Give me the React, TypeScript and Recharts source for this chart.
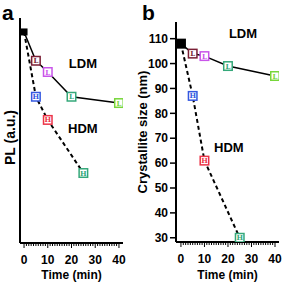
import React from "react";
import { LineChart, Line, XAxis, YAxis, ReferenceDot, Label } from "recharts";

// Panel a: PL (a.u.)
const ldmTimes = [0, 5, 10, 20, 40];
const hdmTimes = [0, 5, 10, 25];
const ldmPL = [93.8, 81, 76, 65, 62.2];
const hdmPL = [93.8, 65, 54.7, 31.1];
// Panel b: crystallite size (nm)
const ldmSize = [108, 104, 103, 99, 95];
const hdmSize = [108, 87, 61, 30];

const ldmColors = ["#000000", "#7a1f35", "#c955ea", "#35a87a", "#77d63a"];
const hdmColors = ["#000000", "#3558e0", "#ec3448", "#35a87a"];

const timeTicks = Array.from({ length: 41 }, (_, i) => i);
const sizeTicks = [30, 40, 50, 60, 70, 80, 90, 100, 110];

const mk = (ts: number[], vs: number[]) => ts.map((t, i) => ({ t, v: vs[i] }));

const FONT = "'Liberation Sans', Arial, sans-serif";
const AXIS = { stroke: "#000", strokeWidth: 2 };

const XTick = (props: any) => {
  const { x, y, payload } = props;
  const v = payload.value;
  const major = v % 10 === 0;
  return (
    <g>
      <line x1={x} x2={x} y1={y} y2={y + (major ? 5 : 3)} stroke="#000" strokeWidth={1} />
      {major && (
        <text x={x} y={y + 21} textAnchor="middle" fontSize={12} fontWeight="bold" fill="#000" fontFamily={FONT}>
          {v}
        </text>
      )}
    </g>
  );
};

const makeDot = (colors: string[], letter: string, startSize: number) => (props: any) => {
  const { cx, cy, index } = props;
  if (cx == null || cy == null) return <g key={`d${index}`} />;
  if (index === 0) {
    if (startSize <= 0) return <g key={`d${index}`} />;
    return (
      <rect key={`d${index}`} x={cx - startSize / 2} y={cy - startSize / 2} width={startSize} height={startSize} fill="#000" />
    );
  }
  const c = colors[index];
  return (
    <g key={`d${index}`}>
      <rect x={cx - 4.25} y={cy - 4.25} width={8.5} height={8.5} fill="#fff" stroke={c} strokeWidth={1.5} />
      <text x={cx} y={cy + 2.5} textAnchor="middle" fontSize={7} fontWeight="bold" fill={c} fontFamily="'DejaVu Serif', serif">
        {letter}
      </text>
    </g>
  );
};

const textLabel = (value: string) => ({ value, position: "center" as const, fontSize: 13, fontWeight: "bold", fill: "#000" });

const PanelA = () => {
  const xd: [number, number] = [-1.7, 41.7];
  return (
    <LineChart width={135} height={283} margin={{ top: 18, right: 12, bottom: 0, left: 0 }}>
      <XAxis
        type="number"
        dataKey="t"
        domain={xd}
        allowDataOverflow
        ticks={timeTicks}
        interval={0}
        tick={<XTick />}
        tickLine={false}
        tickSize={0}
        tickMargin={0}
        axisLine={AXIS}
        height={40}
      >
        <Label value="Time (min)" position="insideBottom" offset={4} fontSize={12} fontWeight="bold" fill="#000" />
      </XAxis>
      <XAxis xAxisId="top" orientation="top" type="number" domain={xd} allowDataOverflow height={0} tick={false} tickLine={false} axisLine={AXIS} />
      <YAxis type="number" domain={[0, 100]} allowDataOverflow width={20} tick={false} axisLine={AXIS} tickLine={false}>
        <Label value="PL (a.u.)" angle={-90} position="center" dx={0} dy={7} fontSize={14} fontWeight="bold" fill="#000" />
      </YAxis>
      <YAxis yAxisId="right" orientation="right" type="number" domain={[0, 100]} width={0} tick={false} tickLine={false} axisLine={AXIS} />
      <ReferenceDot x={24.8} y={80} r={0} stroke="none" label={textLabel("LDM")} />
      <ReferenceDot x={24.8} y={51} r={0} stroke="none" label={textLabel("HDM")} />
      <Line
        data={mk(hdmTimes, hdmPL)}
        dataKey="v"
        stroke="#000"
        strokeWidth={2}
        strokeDasharray="4 3"
        isAnimationActive={false}
        dot={makeDot(hdmColors, "H", 0)}
      />
      <Line
        data={mk(ldmTimes, ldmPL)}
        dataKey="v"
        stroke="#000"
        strokeWidth={1.5}
        isAnimationActive={false}
        dot={makeDot(ldmColors, "L", 7)}
      />
    </LineChart>
  );
};

const PanelB = () => {
  const xd: [number, number] = [-2.1, 41.7];
  const yd: [number, number] = [28.3, 116.7];
  return (
    <LineChart width={148} height={283} margin={{ top: 22, right: 4, bottom: 0, left: 0 }}>
      <XAxis
        type="number"
        dataKey="t"
        domain={xd}
        allowDataOverflow
        ticks={timeTicks}
        interval={0}
        tick={<XTick />}
        tickLine={false}
        tickSize={0}
        tickMargin={0}
        axisLine={AXIS}
        height={41}
      >
        <Label value="Time (min)" position="insideBottom" offset={4} fontSize={12} fontWeight="bold" fill="#000" />
      </XAxis>
      <XAxis xAxisId="top" orientation="top" type="number" domain={xd} allowDataOverflow height={0} tick={false} tickLine={false} axisLine={AXIS} />
      <YAxis
        type="number"
        domain={yd}
        allowDataOverflow
        ticks={sizeTicks}
        interval={0}
        width={41}
        axisLine={AXIS}
        tickLine={{ stroke: "#000", strokeWidth: 1.5 }}
        tickSize={6}
        tickMargin={2}
        tick={{ fontSize: 12, fontWeight: "bold", fill: "#000" }}
      >
        <Label value="Crystallite size (nm)" angle={-90} position="center" dx={-13} fontSize={13} fontWeight="bold" fill="#000" />
      </YAxis>
      <YAxis yAxisId="right" orientation="right" type="number" domain={yd} allowDataOverflow width={0} tick={false} tickLine={false} axisLine={AXIS} />
      <ReferenceDot x={26.4} y={112.1} r={0} stroke="none" label={textLabel("LDM")} />
      <ReferenceDot x={20.4} y={66.3} r={0} stroke="none" label={textLabel("HDM")} />
      <Line
        data={mk(hdmTimes, hdmSize)}
        dataKey="v"
        stroke="#000"
        strokeWidth={2}
        strokeDasharray="4 3"
        isAnimationActive={false}
        dot={makeDot(hdmColors, "H", 0)}
      />
      <Line
        data={mk(ldmTimes, ldmSize)}
        dataKey="v"
        stroke="#000"
        strokeWidth={1.5}
        isAnimationActive={false}
        dot={makeDot(ldmColors, "L", 10)}
      />
    </LineChart>
  );
};

export default function App() {
  return (
    <div
      style={{
        position: "absolute",
        left: 0,
        top: 0,
        width: 283,
        height: 283,
        background: "#fff",
        fontFamily: FONT,
        fontWeight: "bold",
      }}
    >
      <div style={{ position: "absolute", left: 0, top: 0 }}>
        <PanelA />
      </div>
      <div style={{ position: "absolute", left: 135, top: 0 }}>
        <PanelB />
      </div>
      <svg width={283} height={283} style={{ position: "absolute", left: 0, top: 0, pointerEvents: "none" }}>
        <text x={2} y={19.5} fontSize={21} fontWeight="bold" fontFamily={FONT} fill="#000">a</text>
        <text x={142} y={19.5} fontSize={21} fontWeight="bold" fontFamily={FONT} fill="#000">b</text>
      </svg>
    </div>
  );
}
